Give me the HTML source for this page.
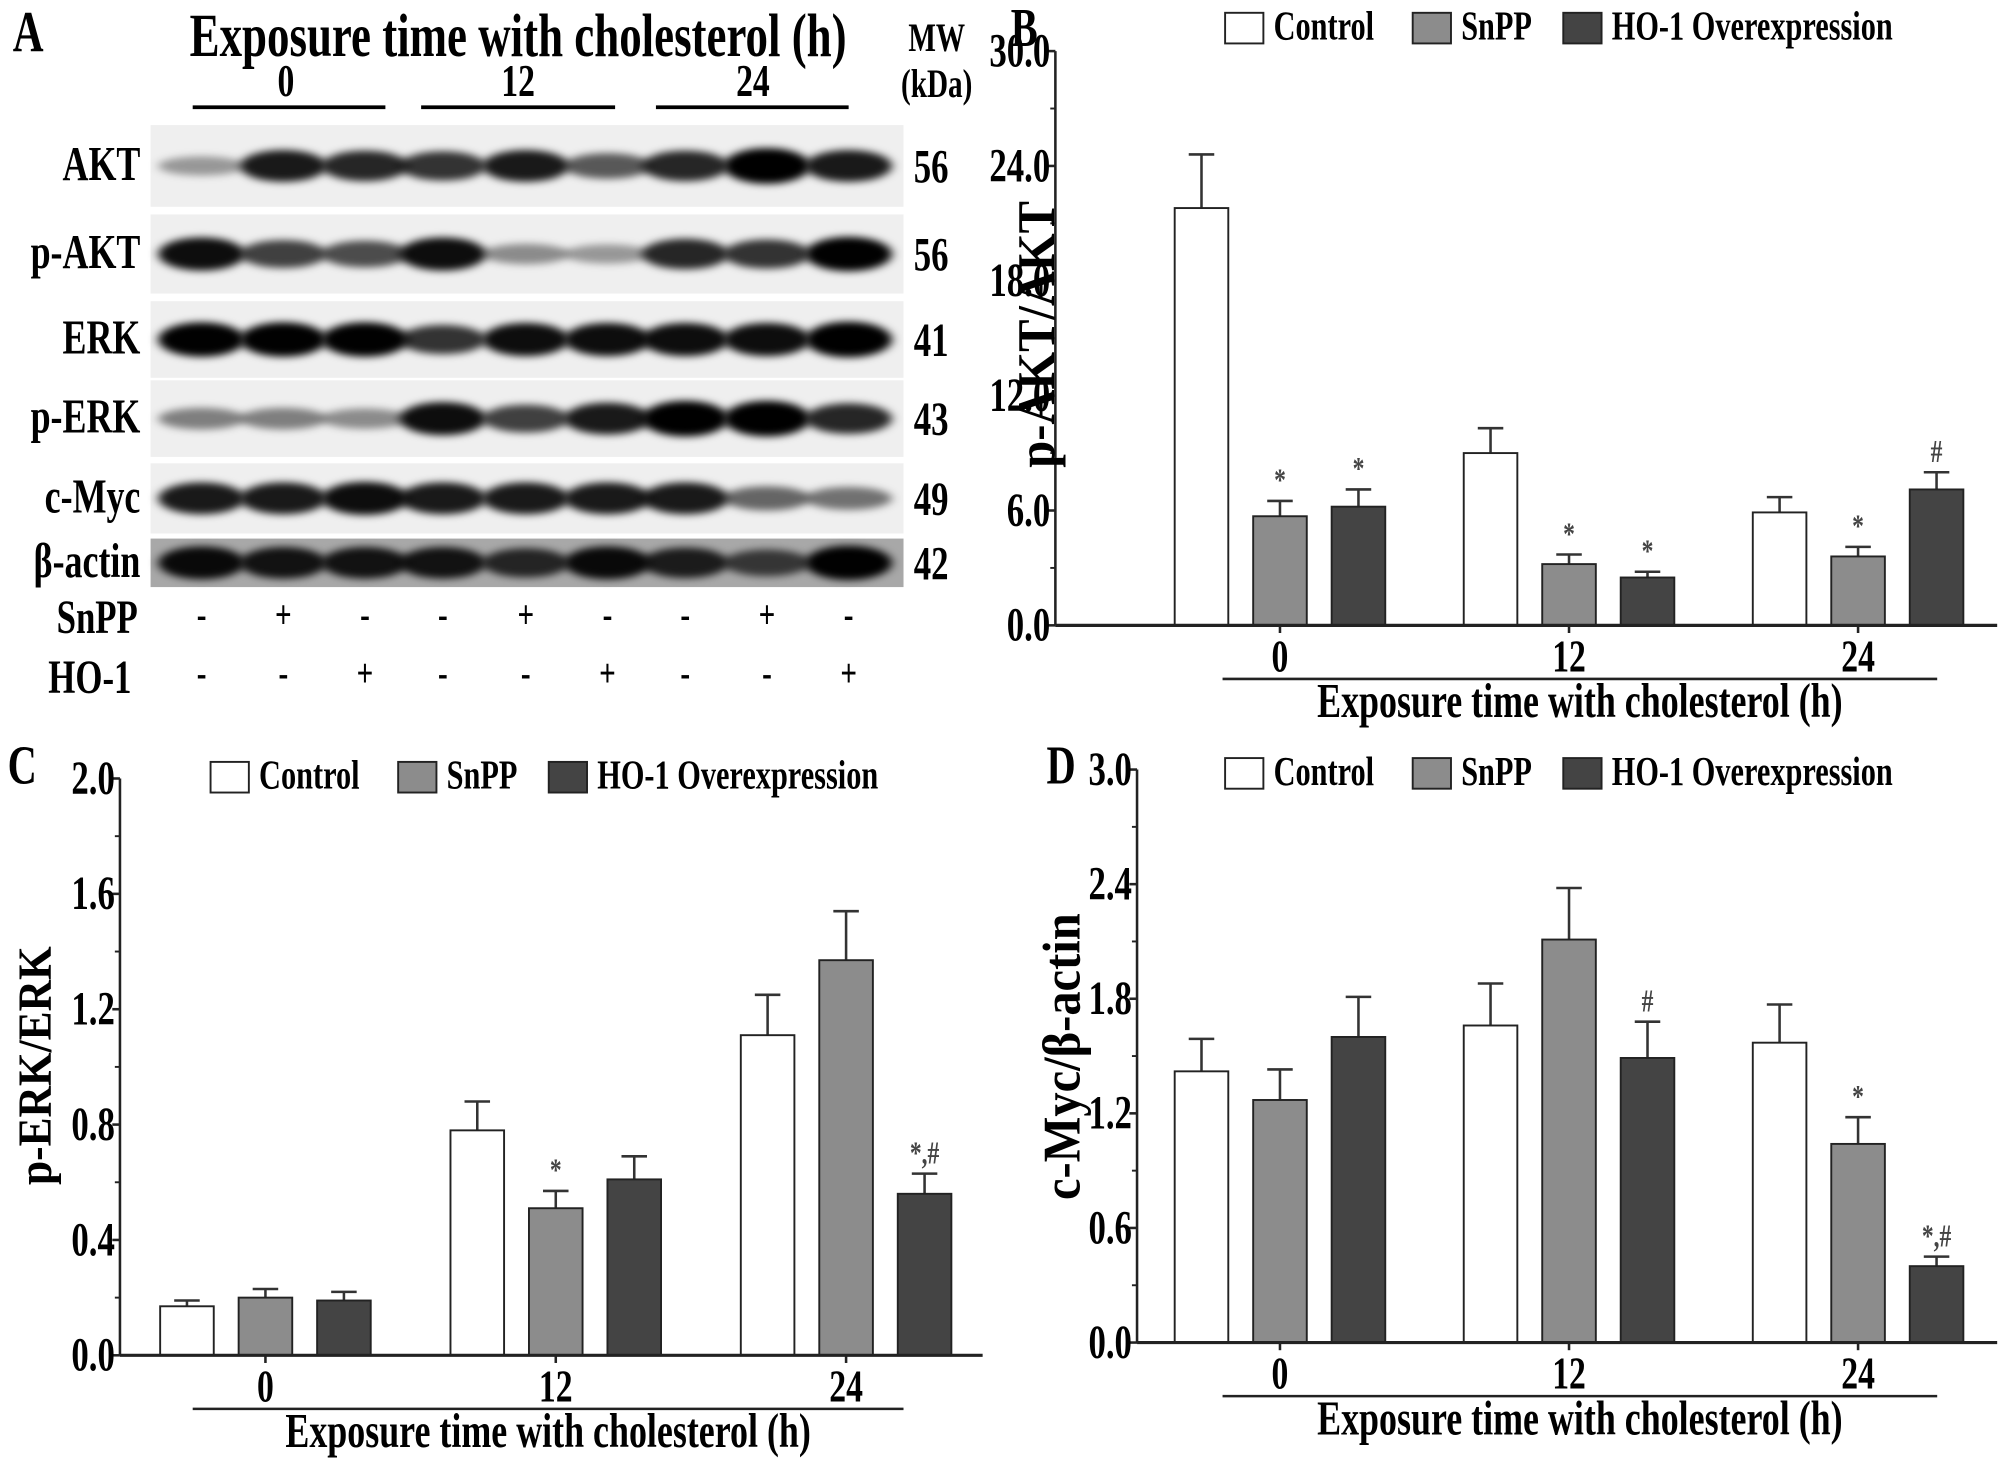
<!DOCTYPE html>
<html><head><meta charset="utf-8">
<style>
html,body{margin:0;padding:0;background:#fff;}
svg{display:block;font-family:"Liberation Serif",serif;font-weight:bold;}
</style></head>
<body>
<svg id="fig" width="2001" height="1460" viewBox="0 0 1568 1144" xmlns="http://www.w3.org/2000/svg">
<defs>
<filter id="blur" x="-20%" y="-100%" width="140%" height="300%"><feGaussianBlur stdDeviation="4 3"/></filter>
</defs>
<g id="panelA">
<line x1="151" y1="84" x2="302" y2="84" stroke="#000" stroke-width="3"/>
<line x1="330" y1="84" x2="482" y2="84" stroke="#000" stroke-width="3"/>
<line x1="514" y1="84" x2="665" y2="84" stroke="#000" stroke-width="3"/>
<g id="blots"></g>
</g>
<g id="panelB"></g>
<g id="panelC"></g>
<g id="panelD"></g>
</svg>
<script>
// ---- Data ----
const groups = ["0","12","24"];
const seriesNames = ["Control","SnPP","HO-1 Overexpression"];
const akt_values = [[21.8,9.0,5.9],[5.7,3.2,3.6],[6.2,2.5,7.1]];
const akt_errors = [[2.8,1.3,0.8],[0.8,0.5,0.5],[0.9,0.3,0.9]];
const akt_marks = [["","",""],["*","*","*"],["*","*","#"]];
const akt_ticks = [0,6,12,18,24,30];
const erk_values = [[0.17,0.78,1.11],[0.20,0.51,1.37],[0.19,0.61,0.56]];
const erk_errors = [[0.02,0.10,0.14],[0.03,0.06,0.17],[0.03,0.08,0.07]];
const erk_marks = [["","",""],["","*",""],["","","*,#"]];
const erk_ticks = [0,0.4,0.8,1.2,1.6,2.0];
const myc_values = [[1.42,1.66,1.57],[1.27,2.11,1.04],[1.60,1.49,0.40]];
const myc_errors = [[0.17,0.22,0.20],[0.16,0.27,0.14],[0.21,0.19,0.05]];
const myc_marks = [["","",""],["","","*"],["","#","*,#"]];
const myc_ticks = [0,0.6,1.2,1.8,2.4,3.0];
const blotNames = ["AKT","p-AKT","ERK","p-ERK","c-Myc","β-actin"];
const blotMW = ["56","56","41","43","49","42"];
const blotIntensity = [
 [0.35,0.85,0.8,0.75,0.85,0.6,0.8,1.0,0.85],
 [0.9,0.7,0.65,0.9,0.4,0.35,0.8,0.75,0.95],
 [0.95,0.95,0.95,0.75,0.9,0.9,0.9,0.9,1.0],
 [0.45,0.45,0.4,0.9,0.7,0.85,1.0,1.0,0.8],
 [0.85,0.85,0.9,0.85,0.85,0.85,0.85,0.55,0.5],
 [0.9,0.85,0.85,0.85,0.75,0.9,0.8,0.65,0.95]];
const snppSigns = ["-","+","-","-","+","-","-","+","-"];
const hoSigns = ["-","-","+","-","-","+","-","-","+"];

const NS="http://www.w3.org/2000/svg";
function mk(tag, attrs, parent, txt){
  const e=document.createElementNS(NS,tag);
  for(const k in attrs) e.setAttribute(k,attrs[k]);
  if(txt!==undefined) e.textContent=txt;
  parent.appendChild(e); return e;
}
function T(parent,x,y,size,anchor,txt,extra){
  const a={x:0,y:0,'font-size':size,'text-anchor':anchor||'start',transform:`translate(${x},${y}) scale(0.88,1.2)`};
  if(extra) for(const k in extra) a[k]=extra[k];
  return mk('text',a,parent,txt);
}
const fills=["#ffffff","#8c8c8c","#444444"];

function drawChart(g, cfg, values, errors, marks, ticks){
  const y = v => cfg.base - (v - ticks[0])/(ticks[ticks.length-1]-ticks[0])*(cfg.base-cfg.top);
  const x = (gi,si) => cfg.g0 + gi*cfg.gstep + (si-1)*cfg.bstep;
  let t=T(g,cfg.lx,cfg.ly,36,'start',cfg.letter);
  
  
  const lg=mk('g',{},g);
  
  
  const lx=[cfg.legX, cfg.legX+147, cfg.legX+265];
  seriesNames.forEach((n,i)=>{
    const r=mk('rect',{x:lx[i],y:cfg.legY-12,width:30,height:24,fill:fills[i],stroke:'#222','stroke-width':1.5},lg);
    
    
    const tt=T(lg,lx[i]+38,cfg.legY+9,27,'start',n);
    
    
  });
  for(let si=0;si<3;si++) for(let gi=0;gi<3;gi++){
    const v=values[si][gi], e=errors[si][gi], cx=x(gi,si);
    const ey=y(v+e);
    const el=mk('line',{x1:cx,y1:y(v),x2:cx,y2:ey,stroke:'#333','stroke-width':2},g);
    
    
    const ec=mk('line',{x1:cx-10,y1:ey,x2:cx+10,y2:ey,stroke:'#333','stroke-width':2},g);
    
    
    const b=mk('rect',{x:cx-cfg.bw/2,y:y(v),width:cfg.bw,height:cfg.base-y(v),fill:fills[si],stroke:'#222','stroke-width':1.5},g);
    
    
    if(marks[si][gi]){
      const m=T(g,cx,ey-8,21,'middle',marks[si][gi],{fill:'#444'});
      
      
    }
  }
  const ya=mk('line',{x1:cfg.ax,y1:cfg.top,x2:cfg.ax,y2:cfg.base,stroke:'#222','stroke-width':2},g);
  
  
  const xa=mk('line',{x1:cfg.ax,y1:cfg.base,x2:cfg.xend,y2:cfg.base,stroke:'#222','stroke-width':2.5},g);
  
  
  ticks.forEach((tv,i)=>{
    const ty=y(tv);
    const tk=mk('line',{x1:cfg.ax-6,y1:ty,x2:cfg.ax,y2:ty,stroke:'#222','stroke-width':2},g);
    
    
    const tl=T(g,cfg.ax-4,ty+12,31,'end',tv.toFixed(1));
    
    
    if(i<ticks.length-1){
      const my=y((tv+ticks[i+1])/2);
      const mt=mk('line',{x1:cfg.ax-4,y1:my,x2:cfg.ax,y2:my,stroke:'#222','stroke-width':1.5},g);
      
      
    }
  });
  groups.forEach((gn,gi)=>{
    const cx=x(gi,1);
    const tk=mk('line',{x1:cx,y1:cfg.base,x2:cx,y2:cfg.base+6,stroke:'#222','stroke-width':2},g);
    
    
    const tl=T(g,cx,cfg.base+36,30,'middle',gn);
    
    
  });
  const ul=mk('line',{x1:cfg.ulx1,y1:cfg.base+42,x2:cfg.ulx2,y2:cfg.base+42,stroke:'#222','stroke-width':2},g);
  
  
  const xt=T(g,(cfg.ulx1+cfg.ulx2)/2,cfg.base+72,32,'middle','Exposure time with cholesterol (h)');
  
  
  const yt=mk('text',{x:0,y:0,'font-size':cfg.ysize,'text-anchor':'middle',transform:`translate(${cfg.ytx},${cfg.yty}) rotate(-90) scale(1,1.1)`},g,cfg.ylabel);
  
  
}

drawChart(document.getElementById('panelB'),
 {letter:'B',lx:792,ly:36,top:40,base:490,ax:827,xend:1565,g0:1003,gstep:226.5,bstep:61.5,bw:42,legX:960,legY:22,ulx1:958,ulx2:1518,ylabel:'p-AKT/AKT',ysize:38,ytx:826,yty:262},
 akt_values,akt_errors,akt_marks,akt_ticks);
drawChart(document.getElementById('panelC'),
 {letter:'C',lx:6,ly:614,top:610,base:1062,ax:94,xend:770,g0:208,gstep:227.5,bstep:61.5,bw:42,legX:165,legY:609,ulx1:151,ulx2:708,ylabel:'p-ERK/ERK',ysize:34,ytx:40,yty:835},
 erk_values,erk_errors,erk_marks,erk_ticks);
drawChart(document.getElementById('panelD'),
 {letter:'D',lx:820,ly:614,top:603,base:1052,ax:891,xend:1565,g0:1003,gstep:226.5,bstep:61.5,bw:42,legX:960,legY:606,ulx1:958,ulx2:1518,ylabel:'c-Myc/β-actin',ysize:38,ytx:846,yty:828},
 myc_values,myc_errors,myc_marks,myc_ticks);

// ---- Blot ----
const pa=document.getElementById('panelA');
let tt;
tt=T(pa,10,40,38,'start','A');


tt=T(pa,406,44,40,'middle','Exposure time with cholesterol (h)');


tt=T(pa,734,40,26,'middle','MW');


tt=T(pa,734,76,26,'middle','(kDa)');


[[224,'0'],[406,'12'],[590,'24']].forEach(p=>{
  const q=T(pa,p[0],75,30,'middle',p[1]);
  
  
});
const bg=document.getElementById('blots');
const strips=[[98,162],[168,230],[236,296],[298,358],[363,418],[422,460]];
const lanes=[158,222,286,347,412,476,537,601,665];
strips.forEach((s,ri)=>{
  const sg=mk('g',{},bg);
  
  
  mk('rect',{x:118,y:s[0],width:590,height:s[1]-s[0],fill:ri==5?'#a8a8a8':'#efefef'},sg);
  const cy=(s[0]+s[1])/2;
  lanes.forEach((lx,li)=>{
    const a=blotIntensity[ri][li];
    const band=mk('ellipse',{cx:lx,cy:cy,rx:34,ry:4+10*a,fill:'#000','fill-opacity':Math.min(1,a*1.05),filter:'url(#blur)'},sg);
    
    
  });
  const nl=T(sg,110,cy+11,32,'end',blotNames[ri]);
  
  
  const mw=T(sg,716,cy+13,31,'start',blotMW[ri]);
  
  
});
const sl=T(bg,108,496,31,'end','SnPP');


const hl=T(bg,103,543,31,'end','HO-1');


lanes.forEach((lx,li)=>{
  const a=T(bg,lx,492,26,'middle',snppSigns[li]);
  
  
  const b=T(bg,lx,538,26,'middle',hoSigns[li]);
  
  
});
</script>
</body></html>
